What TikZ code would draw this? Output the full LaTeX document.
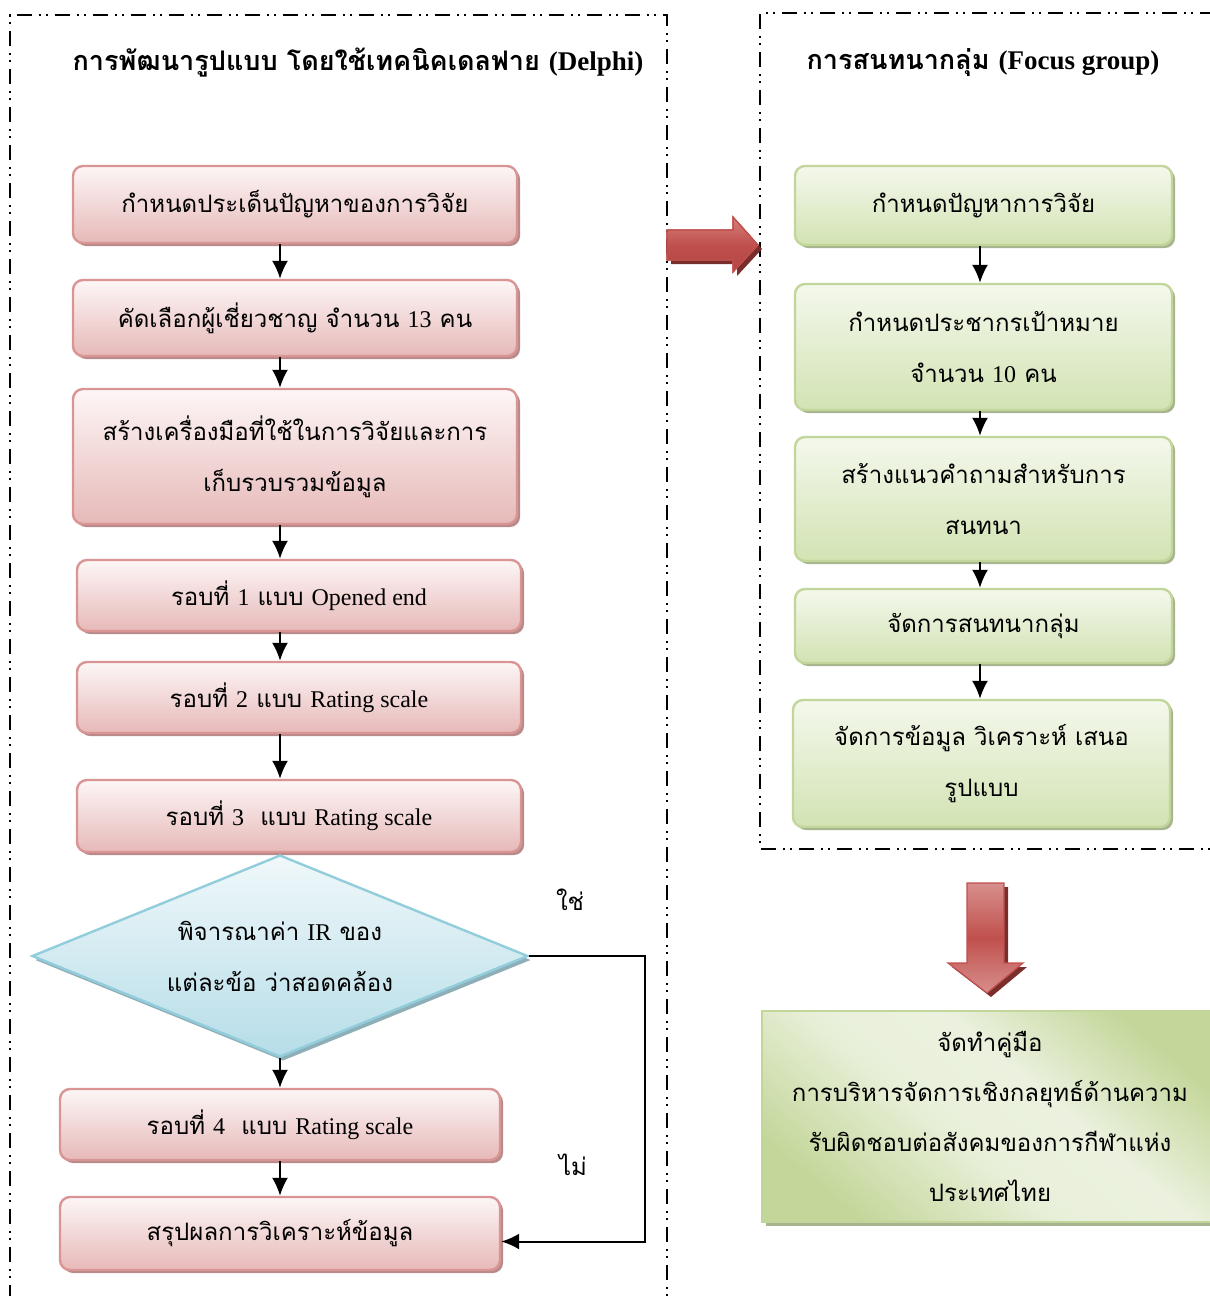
\documentclass[tikz,border=0pt]{standalone}
\usepackage{fontspec}
\setmainfont[Script=Thai]{Loma}
\newfontfamily\latinfont{Liberation Serif}
\newcommand\lt[1]{{\latinfont #1}}
\usetikzlibrary{shapes.geometric,arrows.meta,shadows}

\definecolor{pinkedge}{HTML}{D99594}
\definecolor{pinktop}{HTML}{FDF6F6}
\definecolor{pinkbottom}{HTML}{E6B9B8}
\definecolor{pinkshadow}{HTML}{B88A8A}
\definecolor{greenedge}{HTML}{C2D69B}
\definecolor{greentop}{HTML}{F4F8EC}
\definecolor{greenbottom}{HTML}{D2E3B3}
\definecolor{greenshadow}{HTML}{A7B48F}
\definecolor{greendark}{HTML}{C4D79B}
\definecolor{greenlight}{HTML}{EBF1DE}
\definecolor{blueedge}{HTML}{92CDDC}
\definecolor{bluetop}{HTML}{F0F8FA}
\definecolor{bluebottom}{HTML}{B6DDE8}
\definecolor{blueshadow}{HTML}{8FAFB8}
\definecolor{redmain}{HTML}{C0504D}
\definecolor{redlight}{HTML}{DA9694}
\definecolor{redshadow}{HTML}{7A2E2C}

% three-band shadings: light edges, strong middle (and the reverse for the outcome box)
\pgfdeclareverticalshading{redband}{100bp}{rgb(0bp)=(0.855,0.588,0.580); rgb(22bp)=(0.855,0.588,0.580); rgb(50bp)=(0.753,0.314,0.302); rgb(78bp)=(0.855,0.588,0.580); rgb(100bp)=(0.855,0.588,0.580)}
\pgfdeclareverticalshading{redflow}{100bp}{rgb(0bp)=(0.70,0.27,0.26); rgb(25bp)=(0.70,0.27,0.26); rgb(50bp)=(0.753,0.314,0.302); rgb(75bp)=(0.84,0.50,0.49); rgb(100bp)=(0.84,0.50,0.49)}
\pgfdeclareverticalshading{greenglow}{100bp}{rgb(0bp)=(0.769,0.843,0.608); rgb(25bp)=(0.769,0.843,0.608); rgb(45bp)=(0.914,0.941,0.855); rgb(58bp)=(0.922,0.945,0.871); rgb(75bp)=(0.769,0.843,0.608); rgb(100bp)=(0.769,0.843,0.608)}

\tikzset{
  frame/.style={line width=0.6pt, dash pattern=on 7.5pt off 3.5pt on 0.9pt off 2.8pt on 0.9pt off 3.4pt},
  boxtext/.style={align=center, inner sep=0pt, font=\fontsize{12}{25.5}\selectfont},
  pinkbox/.style={boxtext, draw=pinkedge, line width=1.2pt, rounded corners=5pt,
    top color=pinktop, bottom color=pinkbottom,
    drop shadow={shadow xshift=1.5pt, shadow yshift=-1.5pt, fill=pinkshadow, opacity=1}},
  greenbox/.style={boxtext, draw=greenedge, line width=1.2pt, rounded corners=5pt,
    top color=greentop, bottom color=greenbottom,
    drop shadow={shadow xshift=1.5pt, shadow yshift=-1.5pt, fill=greenshadow, opacity=1}},
  decision/.style={boxtext, diamond, aspect=2.45, draw=blueedge, line width=1.2pt,
    top color=bluetop, bottom color=bluebottom,
    drop shadow={shadow xshift=1.5pt, shadow yshift=-2pt, fill=blueshadow, opacity=1}},
  resultbox/.style={boxtext, draw=greenedge, line width=1.2pt,
    shading=greenglow, shading angle=-40,
    drop shadow={shadow xshift=2pt, shadow yshift=-2pt, fill=greenshadow, opacity=1}},
  flow/.style={line width=1pt, -{Latex[length=9pt,width=8pt]}},
  heading/.style={font=\fontsize{13.5}{16}\selectfont\bfseries},
  lbl/.style={font=\fontsize{12}{16}\selectfont},
  bigarrow/.style={draw=redmain, line width=0.6pt},
}

\begin{document}
\begin{tikzpicture}[x=0.5pt,y=-0.5pt]
\useasboundingbox (0,0) rectangle (1210,1296);
\clip (0,0) rectangle (1210,1296);

% dash-dot frames of the two stages
\draw[frame] (10,1300) -- (10,15) -- (667,15) -- (667,1300);
\draw[frame] (1215,13) -- (760,13) -- (760,849) -- (1215,849);

% headings
\node[heading] (hleft) at (358,63) {การพัฒนารูปแบบ โดยใช้เทคนิคเดลฟาย \lt{(Delphi)}};
\node[heading] (hright) at (983,63) {การสนทนากลุ่ม \lt{(Focus group)}};

% Delphi stage
\node[pinkbox, minimum width=222pt, minimum height=38.5pt] (L1) at (295,204.5) {กำหนดประเด็นปัญหาของการวิจัย};
\node[pinkbox, minimum width=222pt, minimum height=38pt] (L2) at (295,318) {คัดเลือกผู้เชี่ยวชาญ จำนวน \lt{13} คน};
\node[pinkbox, minimum width=222pt, minimum height=67.5pt] (L3) at (295,456.5) {สร้างเครื่องมือที่ใช้ในการวิจัยและการ\\เก็บรวบรวมข้อมูล};
\node[pinkbox, minimum width=222pt, minimum height=35.5pt] (L4) at (299,595.5) {รอบที่ \lt{1} แบบ \lt{Opened end}};
\node[pinkbox, minimum width=222pt, minimum height=35.5pt] (L5) at (299,697.5) {รอบที่ \lt{2} แบบ \lt{Rating scale}};
\node[pinkbox, minimum width=222pt, minimum height=36pt] (L6) at (299,816) {รอบที่ \lt{3}\ \ แบบ \lt{Rating scale}};
\node[decision, minimum width=248pt, minimum height=101pt] (D) at (280,956) {พิจารณาค่า \lt{IR} ของ\\แต่ละข้อ ว่าสอดคล้อง};
\node[pinkbox, minimum width=220pt, minimum height=35.5pt] (L7) at (280,1124.5) {รอบที่ \lt{4}\ \ แบบ \lt{Rating scale}};
\node[pinkbox, minimum width=220pt, minimum height=36.5pt] (L8) at (280,1233.5) {สรุปผลการวิเคราะห์ข้อมูล};

\draw[flow] (L1.south -| D.north) -- (L2.north -| D.north);
\draw[flow] (L2.south -| D.north) -- (L3.north -| D.north);
\draw[flow] (L3.south -| D.north) -- (L4.north -| D.north);
\draw[flow] (L4.south -| D.north) -- (L5.north -| D.north);
\draw[flow] (L5.south -| D.north) -- (L6.north -| D.north);
\draw[flow] (D.south) -- (L7.north -| D.south);
\draw[flow] (L7.south -| D.south) -- (L8.north -| D.south);

\coordinate (turn) at (645,955);
\draw[flow] (D.east) -- (D.east -| turn) |- ([yshift=-4pt]L8.east);
\node[lbl] (yes) at (570,900) {ใช่};
\node[lbl] (no) at (573,1165) {ไม่};

% focus group stage
\node[greenbox, minimum width=188.5pt, minimum height=39.5pt] (R1) at (983.5,205.5) {กำหนดปัญหาการวิจัย};
\node[greenbox, minimum width=188.5pt, minimum height=63pt] (R2) at (983.5,347) {กำหนดประชากรเป้าหมาย\\จำนวน \lt{10} คน};
\node[greenbox, minimum width=188.5pt, minimum height=62pt] (R3) at (983.5,499) {สร้างแนวคำถามสำหรับการ\\สนทนา};
\node[greenbox, minimum width=188.5pt, minimum height=37pt] (R4) at (983.5,626) {จัดการสนทนากลุ่ม};
\node[greenbox, minimum width=188.5pt, minimum height=63.5pt] (R5) at (981.5,763.5) {จัดการข้อมูล วิเคราะห์ เสนอ\\รูปแบบ};

\coordinate (rx) at (980,0);
\draw[flow] (R1.south -| rx) -- (R2.north -| rx);
\draw[flow] (R2.south -| rx) -- (R3.north -| rx);
\draw[flow] (R3.south -| rx) -- (R4.north -| rx);
\draw[flow] (R4.south -| rx) -- (R5.north -| rx);

% outcome
\node[resultbox, minimum width=228pt, minimum height=105.5pt, font=\fontsize{12}{25}\selectfont] (B) at (990,1116.5)
  {จัดทำคู่มือ\\การบริหารจัดการเชิงกลยุทธ์ด้านความ\\รับผิดชอบต่อสังคมของการกีฬาแห่ง\\ประเทศไทย};

% block arrows between stages
\fill[redshadow] (671,234) -- (737,234) -- (737,221) -- (762,249) -- (737,276) -- (737,264) -- (671,264) -- cycle;
\path[bigarrow, shading=redflow]
  (667,230) -- (733,230) -- (733,217) -- (758,245) -- (733,272) -- (733,260) -- (667,260) -- cycle;
\draw[bigarrow] (667,230) -- (733,230) -- (733,217) -- (758,245) -- (733,272) -- (733,260) -- (667,260) -- cycle;

\fill[redshadow] (971,887) -- (1008,887) -- (1008,967) -- (1027,967) -- (991,997) -- (952,967) -- (971,967) -- cycle;
\shade[shading=redband]
  (967,883) -- (1004,883) -- (1004,963) -- (1023,963) -- (987,993) -- (948,963) -- (967,963) -- cycle;
\draw[bigarrow] (967,883) -- (1004,883) -- (1004,963) -- (1023,963) -- (987,993) -- (948,963) -- (967,963) -- cycle;
\end{tikzpicture}
\end{document}
